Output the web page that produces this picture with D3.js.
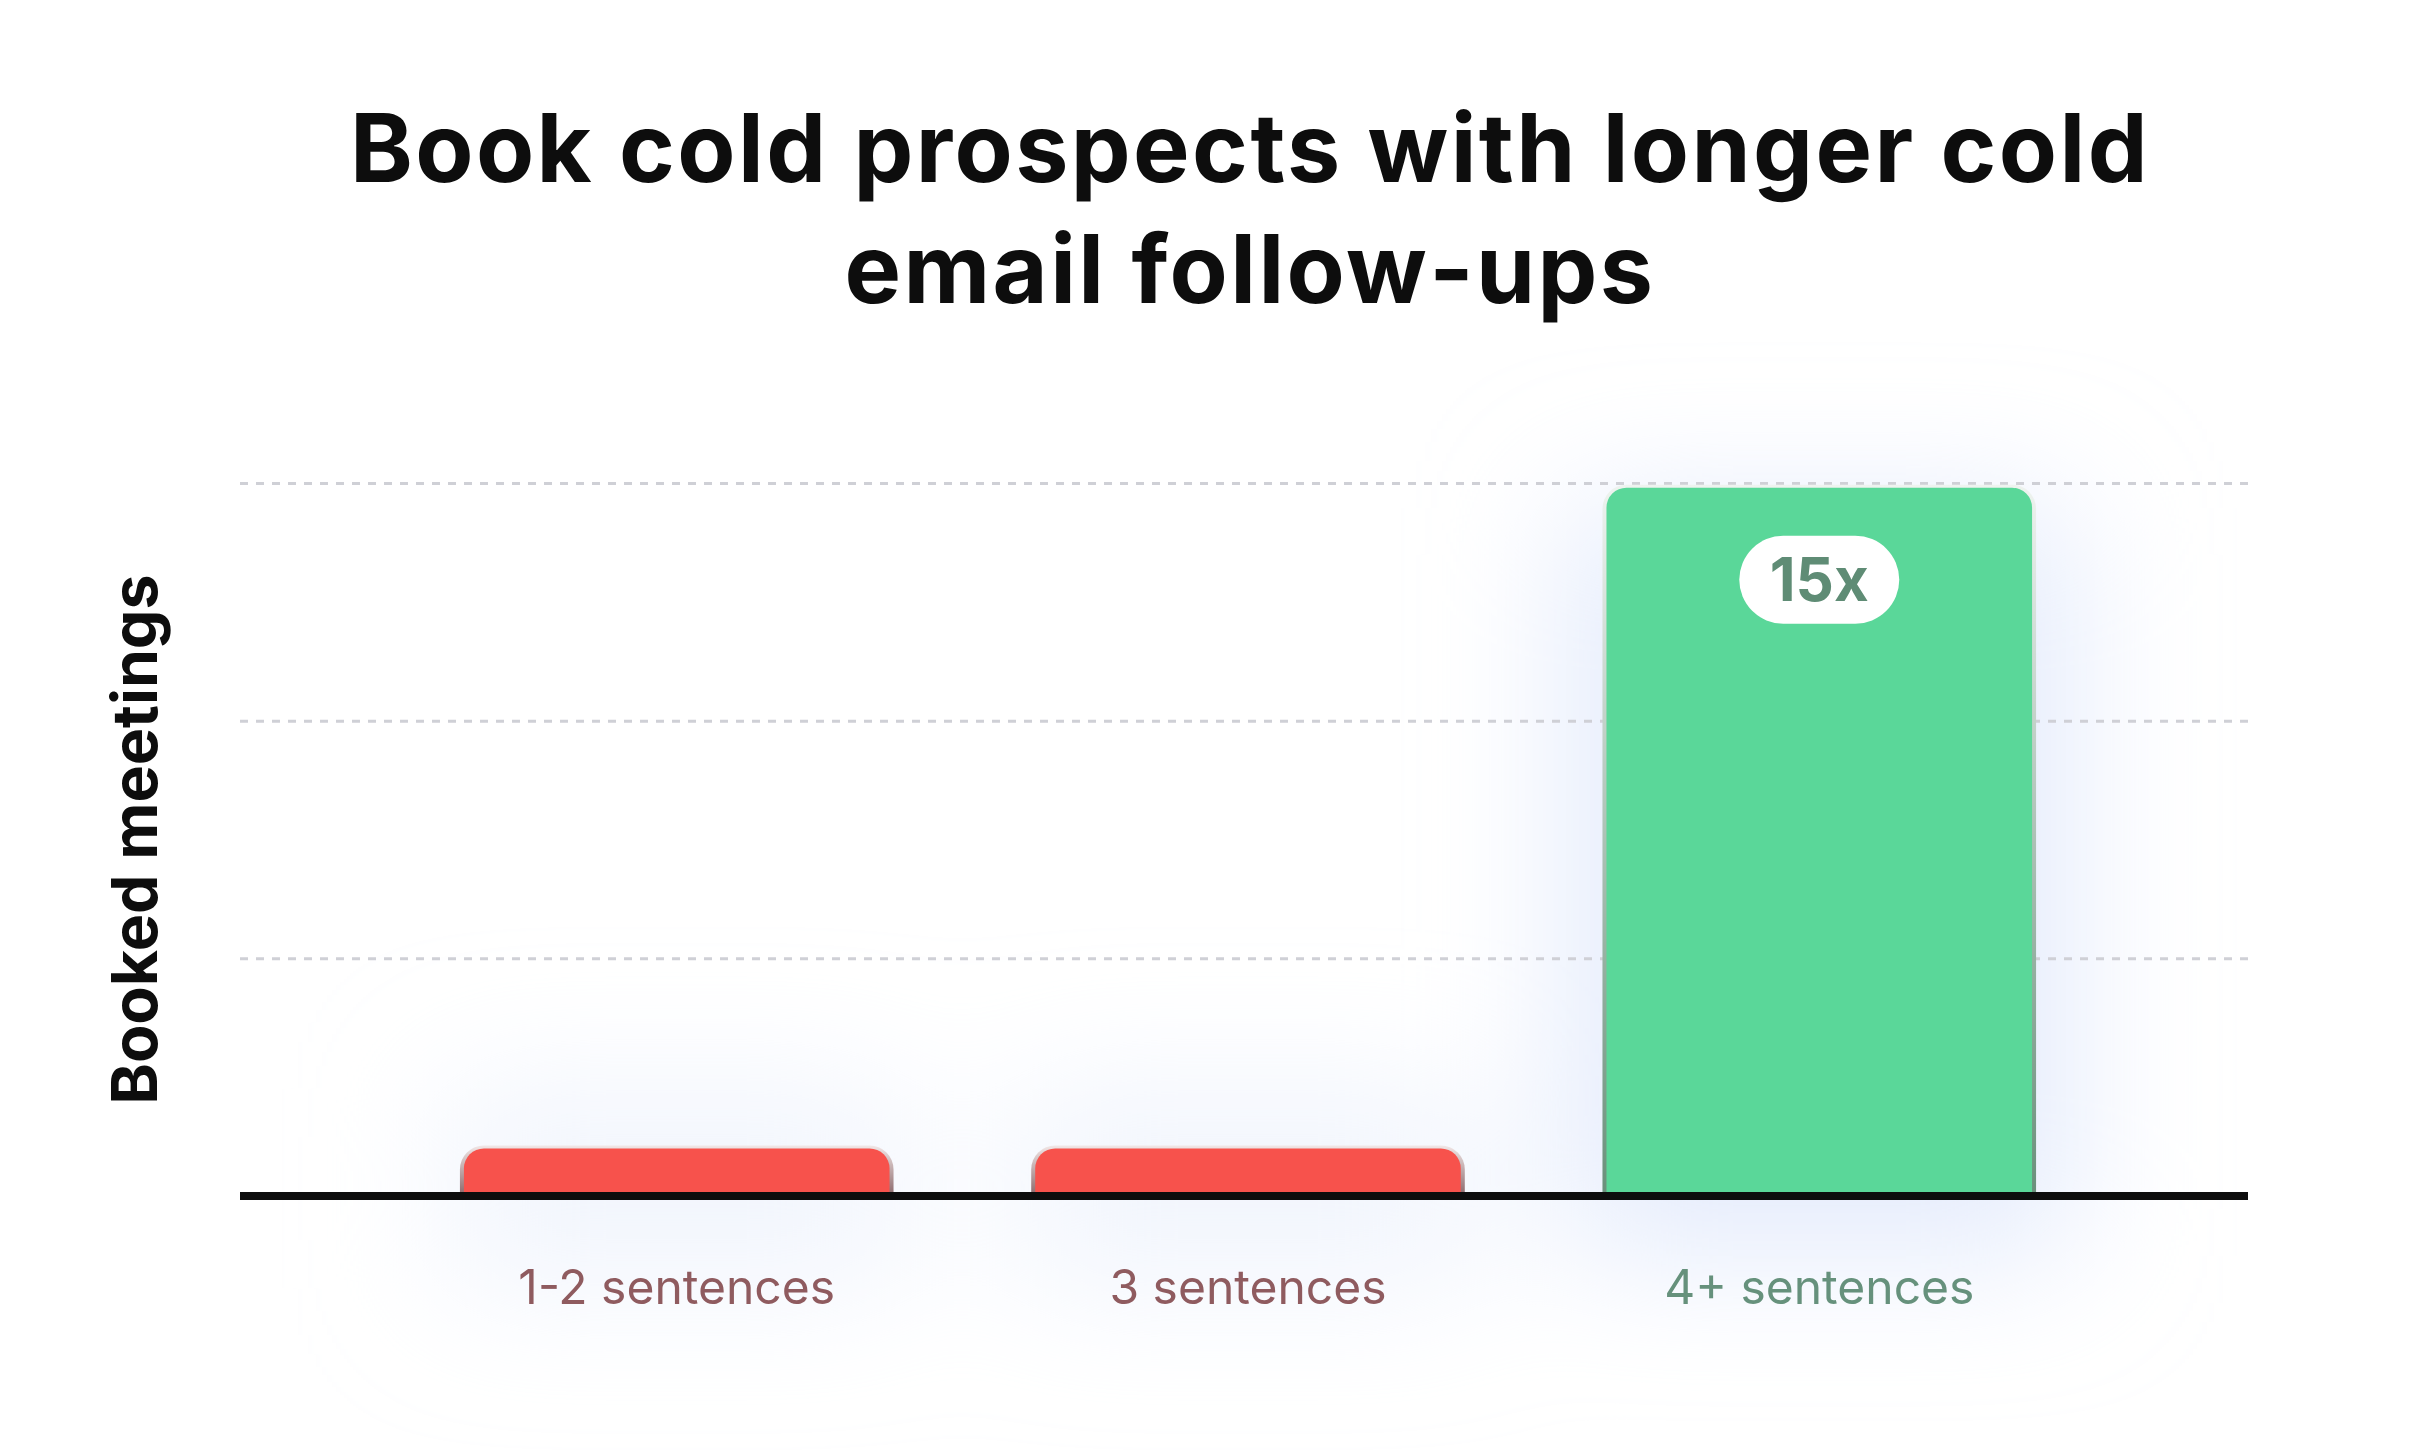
<!DOCTYPE html>
<html>
<head>
<meta charset="utf-8">
<script src="https://cdn.jsdelivr.net/npm/d3@7"></script>
<style>
  html, body { margin: 0; padding: 0; background: #ffffff; }
  svg { display: block; }
</style>
</head>
<body>
<svg id="chart" width="2416" height="1456"></svg>
<script>
// ---- data ----
const titleLines = ["Book cold prospects with longer cold", "email follow-ups"];
const yAxisTitle = "Booked meetings";
const categories = ["1-2 sentences", "3 sentences", "4+ sentences"];
const values = [1, 1, 14.9];
const gridTicks = [5, 10, 15];
const highlightIndex = 2;
const highlightLabel = "15x";

// ---- layout ----
const W = 2416, H = 1456;
const plot = { left: 240, right: 2248, top: 483, bottom: 1196 };

const svg = d3.select("#chart");
const defs = svg.append("defs");

defs.append("filter").attr("id", "glow")
  .attr("x", "-100%").attr("y", "-100%").attr("width", "300%").attr("height", "300%")
  .append("feGaussianBlur").attr("stdDeviation", 70);

const gGreen = defs.append("linearGradient").attr("id", "ringGreen")
  .attr("x1", 0).attr("y1", 0).attr("x2", 0).attr("y2", 1);
gGreen.append("stop").attr("offset", "0%").attr("stop-color", "#eef3ef");
gGreen.append("stop").attr("offset", "100%").attr("stop-color", "#6a907b");
const gRed = defs.append("linearGradient").attr("id", "ringRed")
  .attr("x1", 0).attr("y1", 0).attr("x2", 0).attr("y2", 1);
gRed.append("stop").attr("offset", "0%").attr("stop-color", "#f1e7e7");
gRed.append("stop").attr("offset", "100%").attr("stop-color", "#8a6668");

const x = d3.scaleBand()
  .domain(categories)
  .range([plot.left + 4, plot.right + 4])
  .paddingInner(0.255)
  .paddingOuter(0.385);

const y = d3.scaleLinear()
  .domain([0, 15])
  .range([plot.bottom, plot.top]);

const data = categories.map((c, i) => ({ c, v: values[i], hi: i === highlightIndex }));

// ---- soft glows ----
const glowG = svg.append("g").attr("filter", "url(#glow)");
data.forEach(d => {
  const bx = x(d.c), bw = x.bandwidth();
  if (d.hi) {
    glowG.append("rect")
      .attr("x", bx - 40).attr("y", y(d.v) + 20)
      .attr("width", bw + 80).attr("height", plot.bottom - y(d.v) + 40)
      .attr("fill", "#dbe4fb").attr("opacity", 0.75);
  } else {
    glowG.append("rect")
      .attr("x", bx - 20).attr("y", y(d.v) - 60)
      .attr("width", bw + 40).attr("height", 200)
      .attr("fill", "#e6ecfb").attr("opacity", 0.55);
  }
});

// ---- gridlines ----
const gridAxis = d3.axisLeft(y)
  .tickValues(gridTicks)
  .tickSize(-(plot.right - plot.left))
  .tickFormat("");
const grid = svg.append("g")
  .attr("transform", `translate(${plot.left},0)`)
  .call(gridAxis);
grid.select(".domain").remove();
grid.selectAll(".tick line")
  .attr("stroke", "#cfd0d6")
  .attr("stroke-width", 3)
  .attr("stroke-dasharray", "8 8");

// ---- bars ----
function topRounded(x0, y0, w, h, r) {
  const p = d3.path();
  p.moveTo(x0, y0 + h);
  p.lineTo(x0, y0 + r);
  p.arcTo(x0, y0, x0 + r, y0, r);
  p.lineTo(x0 + w - r, y0);
  p.arcTo(x0 + w, y0, x0 + w, y0 + r, r);
  p.lineTo(x0 + w, y0 + h);
  p.closePath();
  return p.toString();
}

const bars = svg.append("g");
data.forEach(d => {
  const bx = x(d.c), bw = x.bandwidth(), by = y(d.v), bh = plot.bottom - by;
  bars.append("path")
    .attr("d", topRounded(bx - 4, by - 3, bw + 8, bh + 3, 24))
    .attr("fill", d.hi ? "url(#ringGreen)" : "url(#ringRed)");
  bars.append("path")
    .attr("d", topRounded(bx, by, bw, bh, 20))
    .attr("fill", d.hi ? "#5ad799" : "#f7524c");
});

// ---- baseline ----
svg.append("line")
  .attr("x1", plot.left).attr("x2", plot.right)
  .attr("y1", y(0)).attr("y2", y(0))
  .attr("stroke", "#0d0d0d").attr("stroke-width", 8);

// ---- category labels ----
const xAxis = d3.axisBottom(x).tickSize(0).tickPadding(0);
const xg = svg.append("g")
  .attr("transform", `translate(0,${plot.bottom})`)
  .call(xAxis);
xg.select(".domain").remove();
xg.selectAll(".tick text")
  .attr("y", 108).attr("dy", 0)
  .attr("font-family", "Inter, 'Noto Sans', sans-serif")
  .attr("font-size", 48)
  .attr("font-weight", 400)
  .attr("fill", (d, i) => i === highlightIndex ? "#66917c" : "#8f5b5f");

// ---- highlight badge ----
const hd = data[highlightIndex];
const cx = x(hd.c) + x.bandwidth() / 2;
const bTop = y(hd.v);
svg.append("rect")
  .attr("x", cx - 80).attr("y", bTop + 48)
  .attr("width", 160).attr("height", 88).attr("rx", 44)
  .attr("fill", "#ffffff");
svg.append("text")
  .attr("x", cx).attr("y", bTop + 113)
  .attr("text-anchor", "middle")
  .attr("font-family", "Inter, 'Noto Sans', sans-serif")
  .attr("font-size", 60).attr("font-weight", 700)
  .attr("fill", "#5f8c75")
  .text(highlightLabel);

// ---- y-axis title ----
const yt = svg.append("text")
  .attr("transform", `translate(157,${(plot.top + plot.bottom) / 2}) rotate(-90)`)
  .attr("text-anchor", "middle")
  .attr("font-family", "Inter, 'Noto Sans', sans-serif")
  .attr("font-weight", 700)
  .attr("font-size", 64)
  .attr("fill", "#0d0d0d")
  .text(yAxisTitle);
{
  const len = yt.node().getComputedTextLength();
  yt.attr("font-size", 64 * 530 / len);
}

// ---- title ----
const tg = svg.append("g");
const tLines = titleLines.map((t, i) => tg.append("text")
  .attr("x", 1250).attr("y", 182 + i * 121)
  .attr("text-anchor", "middle")
  .attr("font-family", "Inter, 'Noto Sans', sans-serif")
  .attr("font-weight", 700)
  .attr("font-size", 95)
  .attr("fill", "#0d0d0d")
  .text(t));
{
  const n0 = tLines[0].node();
  const len = n0.getComputedTextLength();
  const ls = (1800 - len) / titleLines[0].length;
  tLines.forEach(t => t.style("letter-spacing", ls + "px"));
}
</script>
</body>
</html>
